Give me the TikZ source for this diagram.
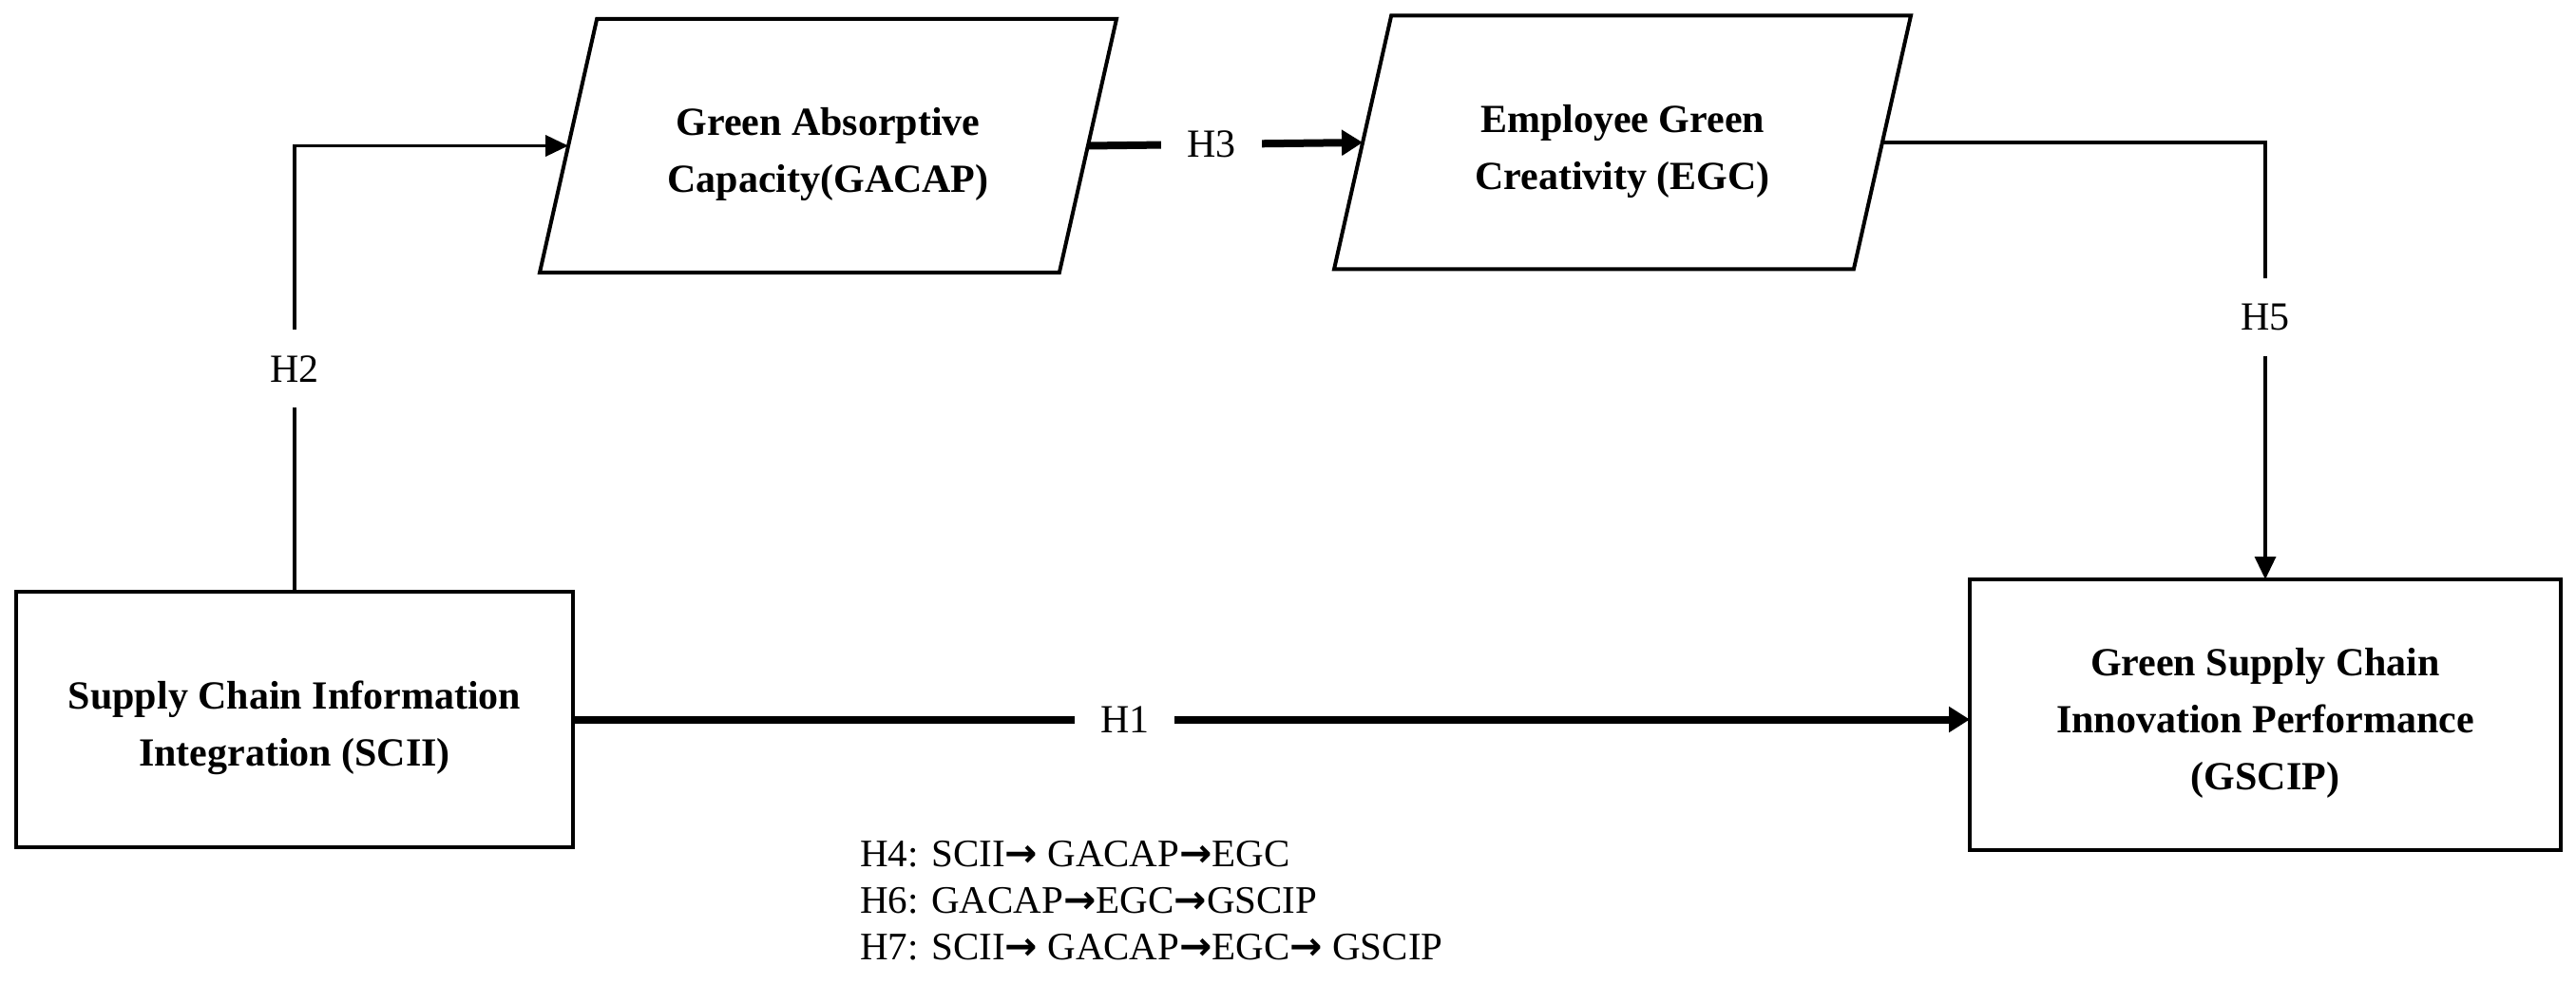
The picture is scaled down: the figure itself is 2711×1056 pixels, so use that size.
\documentclass[tikz,border=0pt]{standalone}
\usepackage{fontspec}
\setmainfont{Liberation Serif}
\newfontfamily\arrfont{DejaVu Sans}
\usetikzlibrary{shapes.geometric,arrows.meta}
\newcommand{\rarr}{{\arrfont\bfseries →}}
\newcommand{\topstrut}{\rule{0pt}{47pt}}
\begin{document}
\begin{tikzpicture}[x=1pt,y=-1pt,
  box/.style={draw, line width=4pt, inner sep=0pt, outer sep=0pt, align=center,
    font=\bfseries\fontsize{42}{60}\selectfont},
  para/.style={draw, line width=4pt, outer sep=0pt, trapezium,
    trapezium left angle=77.3, trapezium right angle=102.7,
    trapezium stretches body, inner xsep=0pt, inner ysep=133.5pt, minimum width=607pt},
  ptext/.style={inner sep=0pt, align=center, font=\bfseries\fontsize{42}{60}\selectfont},
  lbl/.style={fill=white, inner sep=27pt, font=\fontsize{42}{48}\selectfont},
  thinlink/.style={line width=3.5pt, -{Triangle[length=24pt,width=22pt]}},
  thicklink/.style={line width=8pt, -{Triangle[length=22pt,width=26pt]}},
  hyp/.style={anchor=base west, inner sep=0pt, font=\fontsize{41}{49}\selectfont}
]
\useasboundingbox (0,0) rectangle (2711,1056);
\fill[white] (0,0) rectangle (2711,1056);

\node[box, minimum width=586pt, minimum height=269pt] (scii) at (310,757.5)
  {\topstrut Supply Chain Information\\Integration (SCII)};
\node[box, minimum width=622pt, minimum height=285pt] (gscip) at (2384,752.5)
  {\topstrut Green Supply Chain\\Innovation Performance\\(GSCIP)};
\node[para] (gacap) at (871.5,153.5) {};
\node[ptext] (gacaptext) at ([yshift=-9pt]gacap.center) {Green Absorptive\\Capacity(GACAP)};
\node[para] (egc) at (1707.5,150) {};
\node[ptext] (egctext) at ([yshift=-9pt]egc.center) {Employee Green\\Creativity (EGC)};

\draw[thinlink] (scii.north) |- node[lbl, pos=0.25] {H2} (gacap.west);
\draw[thicklink] (gacap.east) -- node[lbl, pos=0.45] {H3} (egc.west);
\draw[thinlink] (egc.east) -| node[lbl, pos=0.70] {H5} (gscip.north);
\draw[thicklink] (scii.east) -- node[lbl, pos=0.395] {H1} (scii.east -| gscip.west);

\node[hyp] (h4) at (905,912) {H4: SCII\rarr{} GACAP\rarr{}EGC};
\node[hyp] (h6) at (905,961) {H6: GACAP\rarr{}EGC\rarr{}GSCIP};
\node[hyp] (h7) at (905,1010) {H7: SCII\rarr{} GACAP\rarr{}EGC\rarr{} GSCIP};
\end{tikzpicture}
\end{document}
